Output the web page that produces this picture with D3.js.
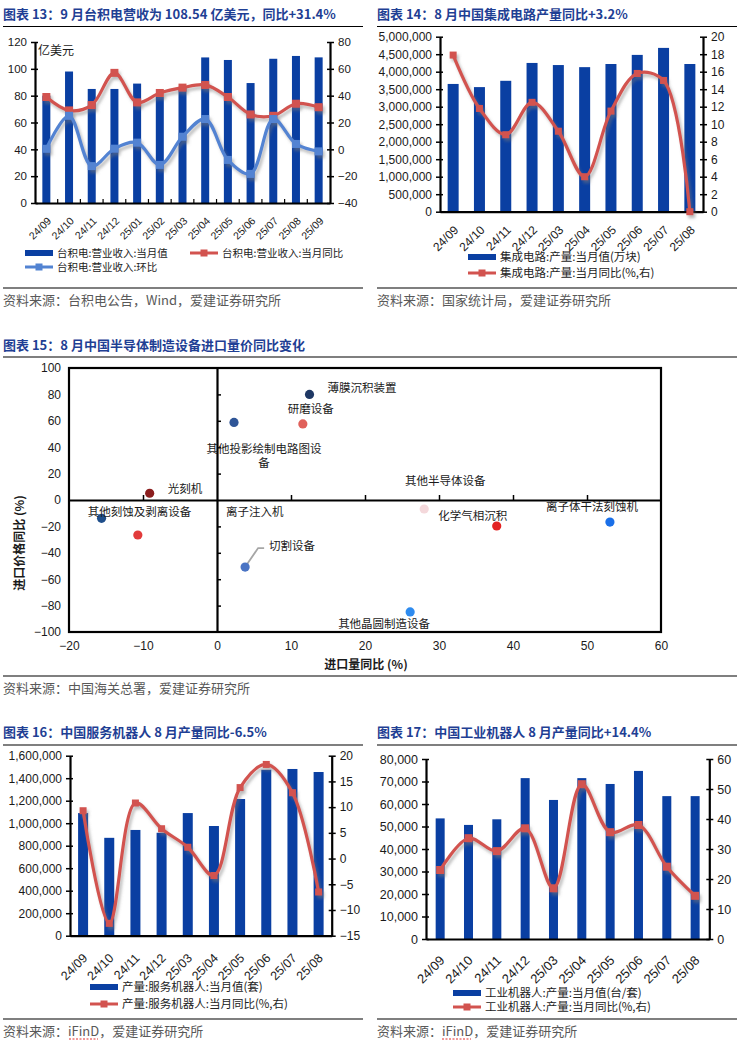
<!DOCTYPE html>
<html>
<head>
<meta charset="utf-8">
<script src="https://cdn.jsdelivr.net/npm/d3@7"></script>
<style>
  body { margin: 0; background: #fff; }
  svg { display: block; }
</style>
</head>
<body>
<script>
// ---------- data ----------
// chart 13: TSMC monthly revenue (亿美元) and YoY / MoM (%)
const tsmcMonths = ["24/09","24/10","24/11","24/12","25/01","25/02","25/03","25/04","25/05","25/06","25/07","25/08","25/09"];
const tsmcRevenue = [80, 98, 85, 85, 89, 79, 86, 108.5, 106.6, 89.4, 107.5, 109.6, 108.54];
const tsmcYoY = [39, 29, 33, 57, 35, 42, 46, 48, 39, 26, 25, 34, 31.4];
const tsmcMoM = [0.4, 25, -12.5, 0.5, 5, -11.6, 9.4, 22.6, -7.9, -18.3, 22.6, 4, -1.5];

// chart 14: China IC output (万块) and YoY (%)
const icMonths = ["24/09","24/10","24/11","24/12","25/03","25/04","25/05","25/06","25/07","25/08"];
const icOutput = [3650000, 3560000, 3740000, 4250000, 4190000, 4130000, 4220000, 4480000, 4680000, 4220000];
const icYoY = [17.9, 11.8, 8.8, 12.5, 9.2, 4.0, 11.5, 15.8, 15.0, 0];

// chart 15: import volume YoY vs import price YoY (%)
const equipNames = ["薄膜沉积装置","研磨设备","其他投影绘制电路图设备","光刻机","其他刻蚀及剥离设备","离子注入机","切割设备","其他晶圆制造设备","其他半导体设备","化学气相沉积","离子体干法刻蚀机"];
const equipVolume = [12.5, 11.6, 2.3, -9.1, -15.6, -10.7, 3.8, 26.1, 28.0, 37.8, 53.1];
const equipPrice = [80, 57.6, 58.8, 5.1, -13.9, -26.5, -50.8, -84.8, -6.8, -19.7, -16.7];

// chart 16: service robots output (套) and YoY (%)
const robotMonths = ["24/09","24/10","24/11","24/12","25/03","25/04","25/05","25/06","25/07","25/08"];
const serviceOutput = [1090000, 870000, 940000, 915000, 1090000, 975000, 1215000, 1475000, 1482000, 1455000];
const serviceYoY = [9.3, -12.6, 10.8, 5.8, 2.2, -3.3, 13.8, 18.3, 12.8, -6.5];

// chart 17: industrial robots output (台/套) and YoY (%)
const industrialOutput = [53600, 50700, 53200, 71500, 61800, 71500, 68900, 74700, 63500, 63500];
const industrialYoY = [23.0, 33.6, 29.3, 36.9, 16.9, 51.6, 35.6, 38.0, 24.1, 14.4];

// ---------- page ----------
const W = 744, H = 1047;
const NUM = '"Liberation Sans", Arial, sans-serif';
const CJK = '"Noto Sans CJK SC", "Noto Sans", sans-serif';
const BLUE = '#0a3fa2', RED = '#d2534f', LIGHT = '#5283d2', TITLE = '#1f3f94';

const svg = d3.select('body').append('svg').attr('width', W).attr('height', H);

// soft grey shadow under the smoothed lines, like the Excel original
svg.append('defs').append('filter')
    .attr('id', 'shadow').attr('x', '-5%').attr('y', '-5%').attr('width', '115%').attr('height', '120%')
  .append('feDropShadow')
    .attr('dx', 2).attr('dy', 3).attr('stdDeviation', 1.6)
    .attr('flood-color', '#777').attr('flood-opacity', 0.5);

function header(x, x2, y, ruleY, text) {
  svg.append('text').attr('x', x).attr('y', y)
    .attr('font-family', CJK).attr('font-weight', 'bold').attr('font-size', 13)
    .attr('fill', TITLE).text(text);
  svg.append('line').attr('x1', x).attr('x2', x2).attr('y1', ruleY).attr('y2', ruleY)
    .attr('stroke', '#000').attr('stroke-width', 1.2);
}

function source(x, x2, ruleY, text) {
  svg.append('line').attr('x1', x).attr('x2', x2).attr('y1', ruleY).attr('y2', ruleY)
    .attr('stroke', '#000').attr('stroke-width', 1.2);
  svg.append('text').attr('x', x).attr('y', ruleY + 16.5)
    .attr('font-family', CJK).attr('font-size', 13).attr('fill', '#595959').text(text);
}

// little legend helpers
function legendBar(x, y, text, fs) {
  svg.append('rect').attr('x', x).attr('y', y - 3).attr('width', 28).attr('height', 6).attr('fill', BLUE);
  svg.append('text').attr('x', x + 32).attr('y', y).attr('dy', '0.35em')
    .attr('font-family', CJK).attr('font-size', fs).attr('fill', '#222').text(text);
}
function legendLine(x, y, color, text, fs) {
  svg.append('line').attr('x1', x).attr('x2', x + 28).attr('y1', y).attr('y2', y)
    .attr('stroke', color).attr('stroke-width', 3);
  svg.append('rect').attr('x', x + 10.5).attr('y', y - 3.5).attr('width', 7).attr('height', 7).attr('fill', color);
  svg.append('text').attr('x', x + 32).attr('y', y).attr('dy', '0.35em')
    .attr('font-family', CJK).attr('font-size', fs).attr('fill', '#222').text(text);
}

// bars on the left axis, smoothed lines with square markers on the right axis
function combo(o) {
  const g = svg.append('g');
  const x = d3.scaleBand().domain(o.cats).range([o.left, o.right]);
  const cx = c => x(c) + x.bandwidth() / 2;
  const yL = d3.scaleLinear().domain(o.leftDomain).range([o.bottom, o.top]);
  const yR = d3.scaleLinear().domain(o.rightDomain).range([o.bottom, o.top]);

  g.selectAll('rect.bar').data(o.bars).join('rect')
    .attr('class', 'bar')
    .attr('x', (d, i) => cx(o.cats[i]) - o.barW / 2)
    .attr('y', d => yL(d))
    .attr('width', o.barW)
    .attr('height', d => yL(0) - yL(d))
    .attr('fill', BLUE);

  const axL = g.append('g').attr('transform', `translate(${o.left},0)`)
    .call(d3.axisLeft(yL).tickValues(o.leftTicks).tickFormat(o.leftFmt)
      .tickSizeInner(4).tickSizeOuter(0).tickPadding(4));
  axL.selectAll('.tick line').attr('x1', 3);

  const axR = g.append('g').attr('transform', `translate(${o.right},0)`)
    .call(d3.axisRight(yR).tickValues(o.rightTicks)
      .tickSizeInner(4).tickSizeOuter(0).tickPadding(4));
  axR.selectAll('.tick line').attr('x1', -3);

  const axB = g.append('g').attr('transform', `translate(0,${o.bottom})`)
    .call(d3.axisBottom(x).tickSize(0).tickPadding(0));
  axB.selectAll('text')
    .attr('y', 0).attr('dy', '0.35em').attr('text-anchor', 'end')
    .attr('font-size', o.xFont)
    .attr('transform', `translate(${o.labDx},${o.labDy}) rotate(-45)`);

  [axL, axR, axB].forEach(a => {
    a.attr('font-family', NUM);
    a.select('.domain').attr('stroke', '#000').attr('stroke-width', 2.2);
    a.selectAll('.tick line').attr('stroke', '#000').attr('stroke-width', 1.5);
    a.selectAll('.tick text').attr('fill', '#1a1a1a');
  });
  axL.selectAll('.tick text').attr('font-size', o.yFont);
  axR.selectAll('.tick text').attr('font-size', o.yFont);

  if (o.boundaryTicks) {
    g.selectAll('line.bt').data(o.cats.slice(1)).join('line')
      .attr('x1', c => x(c)).attr('x2', c => x(c))
      .attr('y1', o.bottom - 4).attr('y2', o.bottom)
      .attr('stroke', '#000').attr('stroke-width', 1.2);
  }

  const line = d3.line().curve(d3.curveCatmullRom.alpha(0.5))
    .x((d, i) => cx(o.cats[i])).y(d => yR(d));
  o.lines.forEach(s => {
    const lg = g.append('g').attr('filter', 'url(#shadow)');
    lg.append('path').datum(s.values).attr('d', line)
      .attr('fill', 'none').attr('stroke', s.color).attr('stroke-width', 3.2);
    lg.selectAll('rect').data(s.values).join('rect')
      .attr('x', (d, i) => cx(o.cats[i]) - o.mk / 2)
      .attr('y', d => yR(d) - o.mk / 2)
      .attr('width', o.mk).attr('height', o.mk)
      .attr('fill', s.color);
  });
  return g;
}

// ---------- chart 13 ----------
header(3, 363, 19, 26.5, '图表 13：9 月台积电营收为 108.54 亿美元，同比+31.4%');
combo({
  cats: tsmcMonths, bars: tsmcRevenue,
  left: 35, right: 330, top: 42, bottom: 203,
  leftDomain: [0, 120], leftTicks: d3.range(0, 121, 20), leftFmt: d3.format('d'),
  rightDomain: [-40, 80], rightTicks: d3.range(-40, 81, 20),
  barW: 8, mk: 8, yFont: 11.5, xFont: 10.5, labDx: 3, labDy: 16, boundaryTicks: true,
  lines: [{ values: tsmcYoY, color: RED }, { values: tsmcMoM, color: LIGHT }]
});
svg.append('text').attr('x', 38).attr('y', 51).attr('dy', '0.35em')
  .attr('font-family', CJK).attr('font-size', 12).attr('fill', '#1a1a1a').text('亿美元');
legendBar(25, 253, '台积电:营业收入:当月值', 10.5);
legendLine(190, 253, RED, '台积电:营业收入:当月同比', 10.5);
legendLine(25, 267, LIGHT, '台积电:营业收入:环比', 10.5);
source(3, 363, 288, '资料来源：台积电公告，Wind，爱建证券研究所');

// ---------- chart 14 ----------
header(377, 737, 19, 26.5, '图表 14：8 月中国集成电路产量同比+3.2%');
combo({
  cats: icMonths, bars: icOutput,
  left: 440, right: 703, top: 36.7, bottom: 211.7,
  leftDomain: [0, 5000000], leftTicks: d3.range(0, 5000001, 500000), leftFmt: d3.format(','),
  rightDomain: [0, 20], rightTicks: d3.range(0, 21, 2),
  barW: 11, mk: 7, yFont: 12, xFont: 12, labDx: 3, labDy: 16,
  lines: [{ values: icYoY, color: RED }]
});
legendBar(468, 257, '集成电路:产量:当月值(万块)', 11.5);
legendLine(468, 273, RED, '集成电路:产量:当月同比(%,右)', 11.5);
source(377, 737, 288, '资料来源：国家统计局，爱建证券研究所');

// ---------- chart 15 ----------
header(3, 737, 350, 357, '图表 15：8 月中国半导体制造设备进口量价同比变化');
{
  const xS = d3.scaleLinear().domain([-20, 60]).range([69, 661]);
  const yS = d3.scaleLinear().domain([-100, 100]).range([632, 368]);
  const g = svg.append('g');

  g.append('rect').attr('x', xS(-20)).attr('y', yS(100))
    .attr('width', xS(60) - xS(-20)).attr('height', yS(-100) - yS(100))
    .attr('fill', 'none').attr('stroke', '#000').attr('stroke-width', 2.2);

  const axL = g.append('g').attr('transform', `translate(${xS(-20)},0)`)
    .call(d3.axisLeft(yS).tickValues(d3.range(-100, 101, 20)).tickSize(0).tickPadding(8));
  const axB = g.append('g').attr('transform', `translate(0,${yS(-100)})`)
    .call(d3.axisBottom(xS).tickValues(d3.range(-20, 61, 10)).tickSize(0).tickPadding(9));
  [axL, axB].forEach(a => {
    a.select('.domain').remove();
    a.attr('font-family', NUM).selectAll('text').attr('font-size', 12).attr('fill', '#1a1a1a');
  });

  // zero cross lines with small ticks
  const axV = g.append('g').attr('transform', `translate(${xS(0)},0)`)
    .call(d3.axisRight(yS).tickValues(d3.range(-80, 81, 20).filter(v => v !== 0)).tickSize(4).tickFormat('').tickSizeOuter(0));
  const axH = g.append('g').attr('transform', `translate(0,${yS(0)})`)
    .call(d3.axisTop(xS).tickValues(d3.range(-10, 51, 10).filter(v => v !== 0)).tickSize(5).tickFormat('').tickSizeOuter(0));
  [axV, axH].forEach(a => {
    a.select('.domain').attr('stroke', '#000').attr('stroke-width', 2.2);
    a.selectAll('.tick line').attr('stroke', '#000').attr('stroke-width', 1.5);
  });

  const dotColors = ['#1f3864', '#e0605a', '#2f5597', '#8b1e1e', '#1f4e8a', '#e23b3b', '#4a74c4', '#2e8bef', '#f4d8db', '#e32222', '#1a6fe8'];
  // label placement relative to each dot: [dx, dy, anchor]
  const labelPos = [[18, -6, 'start'], [8, -15, 'middle'], [30, 27, 'middle'], [18, -4, 'start'], [38, -6, 'middle'],
                    [117, -23, 'middle'], [24, -21, 'start'], [-26, 12, 'middle'], [21, -28, 'middle'], [-24, -10, 'middle'], [-18, -15, 'middle']];

  // leader line for 切割设备
  const ci = equipNames.indexOf('切割设备');
  const lx = xS(equipVolume[ci]), ly = yS(equipPrice[ci]);
  g.append('polyline')
    .attr('points', `${lx},${ly} ${lx + 13},${ly - 19} ${lx + 19},${ly - 19}`)
    .attr('fill', 'none').attr('stroke', '#a6a6a6').attr('stroke-width', 1.8);

  g.selectAll('circle.pt').data(equipNames).join('circle')
    .attr('cx', (d, i) => xS(equipVolume[i]))
    .attr('cy', (d, i) => yS(equipPrice[i]))
    .attr('r', 4.6)
    .attr('fill', (d, i) => dotColors[i]);

  equipNames.forEach((name, i) => {
    const [dx, dy, anchor] = labelPos[i];
    const t = g.append('text')
      .attr('x', xS(equipVolume[i]) + dx).attr('y', yS(equipPrice[i]) + dy).attr('dy', '0.35em')
      .attr('text-anchor', anchor).attr('font-family', CJK).attr('font-size', 11.5).attr('fill', '#1a1a1a');
    if (name === '其他投影绘制电路图设备') {
      t.text('其他投影绘制电路图设');
      g.append('text').attr('x', xS(equipVolume[i]) + dx).attr('y', yS(equipPrice[i]) + dy + 14).attr('dy', '0.35em')
        .attr('text-anchor', 'middle').attr('font-family', CJK).attr('font-size', 11.5).attr('fill', '#1a1a1a').text('备');
    } else {
      t.text(name);
    }
  });

  g.append('text').attr('transform', `translate(20,543) rotate(-90)`).attr('dy', '0.35em')
    .attr('text-anchor', 'middle').attr('font-family', CJK).attr('font-weight', 'bold').attr('font-size', 12)
    .attr('fill', '#1a1a1a').text('进口价格同比 (%)');
  g.append('text').attr('x', 366).attr('y', 665).attr('dy', '0.35em')
    .attr('text-anchor', 'middle').attr('font-family', CJK).attr('font-weight', 'bold').attr('font-size', 12)
    .attr('fill', '#1a1a1a').text('进口量同比 (%)');
}
source(3, 737, 676, '资料来源：中国海关总署，爱建证券研究所');

// ---------- chart 16 ----------
header(3, 363, 737, 745, '图表 16：中国服务机器人 8 月产量同比-6.5%');
combo({
  cats: robotMonths, bars: serviceOutput,
  left: 70, right: 331.7, top: 755.7, bottom: 935.7,
  leftDomain: [0, 1600000], leftTicks: d3.range(0, 1600001, 200000), leftFmt: d3.format(','),
  rightDomain: [-15, 20], rightTicks: d3.range(-15, 21, 5),
  barW: 10, mk: 7, yFont: 12, xFont: 12.5, labDx: 2, labDy: 20,
  lines: [{ values: serviceYoY, color: RED }]
});
legendBar(90, 987, '产量:服务机器人:当月值(套)', 11.5);
legendLine(90, 1004, RED, '产量:服务机器人:当月同比(%,右)', 11.5);
source(3, 363, 1019, '资料来源：iFinD，爱建证券研究所');

// ---------- chart 17 ----------
header(377, 737, 737, 745, '图表 17：中国工业机器人 8 月产量同比+14.4%');
combo({
  cats: robotMonths, bars: industrialOutput,
  left: 426, right: 709.3, top: 759, bottom: 939,
  leftDomain: [0, 80000], leftTicks: d3.range(0, 80001, 10000), leftFmt: d3.format(','),
  rightDomain: [0, 60], rightTicks: d3.range(0, 61, 10),
  barW: 9, mk: 8, yFont: 12.5, xFont: 13, labDx: 2, labDy: 19,
  lines: [{ values: industrialYoY, color: RED }]
});
legendBar(453, 993, '工业机器人:产量:当月值(台/套)', 11.5);
legendLine(453, 1007, RED, '工业机器人:产量:当月同比(%,右)', 11.5);
source(377, 737, 1019, '资料来源：iFinD，爱建证券研究所');

// red spell-check squiggles under "iFinD" in the sources
[[69, 98], [442, 471]].forEach(([a, b]) => {
  svg.append('line').attr('x1', a).attr('x2', b).attr('y1', 1039).attr('y2', 1039)
    .attr('stroke', '#e03030').attr('stroke-width', 1).attr('stroke-dasharray', '2,1.5');
});
</script>
</body>
</html>
